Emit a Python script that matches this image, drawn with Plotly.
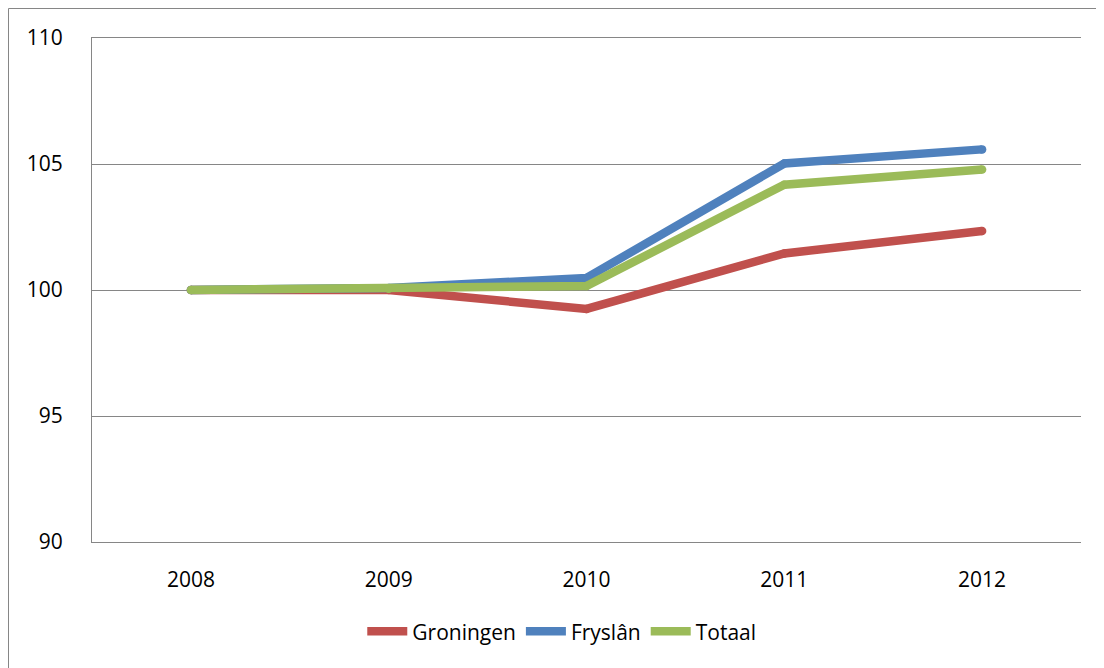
import plotly.graph_objects as go

# Index figures per province (2008 = 100)
years = ["2008", "2009", "2010", "2011", "2012"]
groningen = [100.0, 100.0, 99.25, 101.45, 102.34]
fryslan = [100.0, 100.08, 100.48, 105.02, 105.58]
totaal = [100.0, 100.05, 100.16, 104.18, 104.78]

series = [
    ("Groningen", groningen, "#C0504D"),
    ("Fryslân", fryslan, "#4F81BD"),
    ("Totaal", totaal, "#9BBB59"),
]

fig = go.Figure()

for name, values, color in series:
    fig.add_trace(go.Scatter(
        x=years,
        y=values,
        mode="lines",
        name=name,
        line=dict(color=color, width=8.5),
    ))
    # round the ends and joints like the original
    fig.add_trace(go.Scatter(
        x=years,
        y=values,
        mode="markers",
        marker=dict(color=color, size=8.5, line=dict(width=0)),
        showlegend=False,
        hoverinfo="skip",
    ))

grid = "#868686"

# page body adds an 8px offset, margins compensate for it
fig.update_layout(
    width=1104,
    height=668,
    margin=dict(l=84, r=31, t=30, b=134),
    paper_bgcolor="white",
    plot_bgcolor="white",
    font=dict(family="Open Sans", size=21, color="black"),
    showlegend=True,
    legend=dict(
        orientation="h",
        x=0.475,
        xanchor="center",
        y=-0.178,
        yanchor="middle",
        font=dict(size=21),
        itemwidth=40,
        traceorder="normal",
    ),
    xaxis=dict(
        type="category",
        range=[-0.5, 4.5],
        showgrid=False,
        zeroline=False,
        showline=True,
        mirror=True,  # top line = the 110 gridline
        linecolor=grid,
        linewidth=1,
        ticks="",
        tickfont=dict(size=21),
        ticklabelstandoff=19,
    ),
    yaxis=dict(
        range=[90, 110],
        dtick=5,
        showgrid=True,
        gridcolor=grid,
        gridwidth=1,
        zeroline=False,
        showline=True,
        linecolor=grid,
        linewidth=1,
        ticks="",
        tickfont=dict(size=21),
        ticklabelstandoff=24,
    ),
    shapes=[
        # outer chart border
        dict(
            type="rect",
            xref="paper",
            yref="paper",
            x0=(8.5 - 92) / 989,
            x1=(1130 - 92) / 989,
            y0=(542 - 700) / 504,
            y1=(542 - 8.5) / 504,
            line=dict(color=grid, width=1),
            layer="below",
        ),
    ],
)

fig.write_html("out.html")
